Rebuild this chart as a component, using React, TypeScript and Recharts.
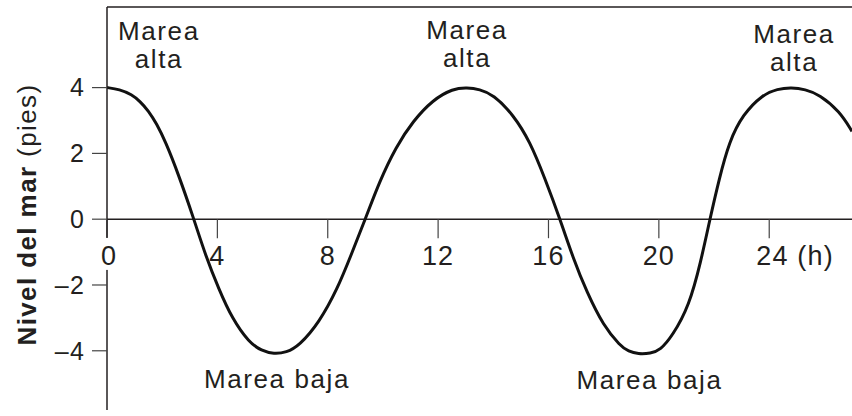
import React from 'react';
import { ComposedChart, Line, XAxis, YAxis, ReferenceLine, ReferenceDot } from 'recharts';

// tide level (hours, feet)
const HOURS = [
  0, 0.45, 0.9, 1.2, 1.5, 1.8, 2.12, 2.6, 3.15, 3.57, 4.05, 4.54, 5.15, 5.6, 6.05, 6.5, 6.96, 7.69, 8.35,
  8.84, 9.36, 9.87, 10.48, 11.08, 11.81, 12.54, 13.05, 13.5, 14.0, 14.72, 15.33, 15.87, 16.42, 16.9,
  17.39, 17.99, 18.6, 18.9, 19.25, 19.7, 20.05, 20.49, 21.1, 21.52, 21.85, 22.19, 22.55, 23.04, 23.76,
  24.3, 24.8, 25.3, 25.82, 26.55, 27.0,
];
const LEVELS = [
  4.0, 3.95, 3.79, 3.58, 3.3, 2.9, 2.36, 1.34, 0, -1.1, -2.12, -3.03, -3.75, -4.0, -4.1, -4.05, -3.85,
  -3.14, -2.12, -1.1, 0, 1.14, 2.21, 2.97, 3.63, 3.97, 4.0, 3.95, 3.79, 3.18, 2.36, 1.24, 0, -1.2,
  -2.22, -3.24, -3.85, -4.02, -4.1, -4.08, -3.98, -3.55, -2.63, -1.3, 0, 1.24, 2.36, 3.18, 3.79, 3.96,
  4.0, 3.95, 3.79, 3.28, 2.67,
];

const X_TICKS = [0, 4, 8, 12, 16, 20, 24];
const X_TICK_LABELS = ['0', '4', '8', '12', '16', '20', '24 (h)'];
const Y_TICKS = [-4, -2, 0, 2, 4];

// annotation anchors (hour, level of first baseline)
const HIGH_TIDE_AT = [
  { t: 1.88, v: 5.45 },
  { t: 13.05, v: 5.48 },
  { t: 24.9, v: 5.36 },
];
const LOW_TIDE_AT = [
  { t: 6.16, v: -5.13 },
  { t: 19.66, v: -5.16 },
];

const Y_MIN = -5.8;
const Y_MAX = 6.45;
const TICK_DROP = -0.578;
const TICK_LABEL_LEVEL = -1.39;

const INK = '#231f20';
const FONT = '"Liberation Sans", Arial, Helvetica, sans-serif';

const data = HOURS.map((t, i) => ({ t, level: LEVELS[i] }));

const fmtY = (v: number) => (v < 0 ? '\u2013' + Math.abs(v) : String(v));

const YTitle = (props: any) => {
  const vb = props.viewBox;
  const x = vb.x + 36;
  const y = vb.y + vb.height / 2 + 6;
  return (
    <text
      x={x}
      y={y}
      transform={`rotate(-90, ${x}, ${y})`}
      textAnchor="middle"
      fill={INK}
      fontSize={26}
      letterSpacing={1.4}
    >
      <tspan fontWeight="bold">Nivel del mar</tspan>
      <tspan> (pies)</tspan>
    </text>
  );
};

const XTickLabel = ({ cx, cy, index }: any) => {
  const label = X_TICK_LABELS[index];
  if (index === X_TICKS.length - 1) {
    return (
      <text x={cx - 13} y={cy} textAnchor="start" fill={INK} fontSize={27} letterSpacing={1.2}>
        {label}
      </text>
    );
  }
  const shift = index === 0 ? 2 : 0;
  return (
    <g>
      {index === 0 && <rect x={cx - 9} y={cy - 27} width={22} height={32} fill="#fff" />}
      <text x={cx + shift} y={cy} textAnchor="middle" fill={INK} fontSize={27} letterSpacing={1.2}>
        {label}
      </text>
    </g>
  );
};

export default function App() {
  return (
    <div style={{ position: 'absolute', left: 0, top: 0, fontFamily: FONT, background: '#fff' }}>
      <ComposedChart width={852} height={416} data={data} margin={{ top: 7, right: 0, bottom: 6, left: 0 }}>
        <XAxis type="number" dataKey="t" domain={[0, 27]} hide allowDataOverflow />
        <YAxis
          type="number"
          domain={[Y_MIN, Y_MAX]}
          ticks={Y_TICKS}
          interval={0}
          allowDataOverflow
          width={107}
          tickSize={15}
          tickMargin={7}
          tickFormatter={fmtY}
          axisLine={{ stroke: INK, strokeWidth: 1.5 }}
          tickLine={{ stroke: '#444', strokeWidth: 1.2 }}
          tick={{ fill: INK, fontSize: 25, letterSpacing: 1.2 }}
          label={<YTitle />}
        />
        <ReferenceLine y={Y_MAX} stroke={INK} strokeWidth={1.5} />
        <ReferenceLine y={0} stroke={INK} strokeWidth={1.5} />
        {X_TICKS.map((t) => (
          <ReferenceLine
            key={`tick-${t}`}
            segment={[
              { x: t, y: 0 },
              { x: t, y: TICK_DROP },
            ]}
            stroke="#444"
            strokeWidth={1.2}
          />
        ))}
        {X_TICKS.map((t, i) => (
          <ReferenceDot
            key={`tl-${t}`}
            x={t}
            y={TICK_LABEL_LEVEL}
            r={0}
            shape={(p: any) => <XTickLabel cx={p.cx} cy={p.cy} index={i} />}
          />
        ))}
        <Line
          type="basis"
          dataKey="level"
          stroke="#111"
          strokeWidth={3}
          dot={false}
          activeDot={false}
          isAnimationActive={false}
        />
        {HIGH_TIDE_AT.map((a, i) => (
          <ReferenceDot
            key={`hi-${i}`}
            x={a.t}
            y={a.v}
            r={0}
            shape={(p: any) => (
              <text x={p.cx} y={p.cy} textAnchor="middle" fill={INK} fontSize={26} letterSpacing={1.6}>
                <tspan x={p.cx}>Marea</tspan>
                <tspan x={p.cx} dy={28}>alta</tspan>
              </text>
            )}
          />
        ))}
        {LOW_TIDE_AT.map((a, i) => (
          <ReferenceDot
            key={`lo-${i}`}
            x={a.t}
            y={a.v}
            r={0}
            shape={(p: any) => (
              <text x={p.cx} y={p.cy} textAnchor="middle" fill={INK} fontSize={26} letterSpacing={1.6}>
                Marea baja
              </text>
            )}
          />
        ))}
      </ComposedChart>
    </div>
  );
}
